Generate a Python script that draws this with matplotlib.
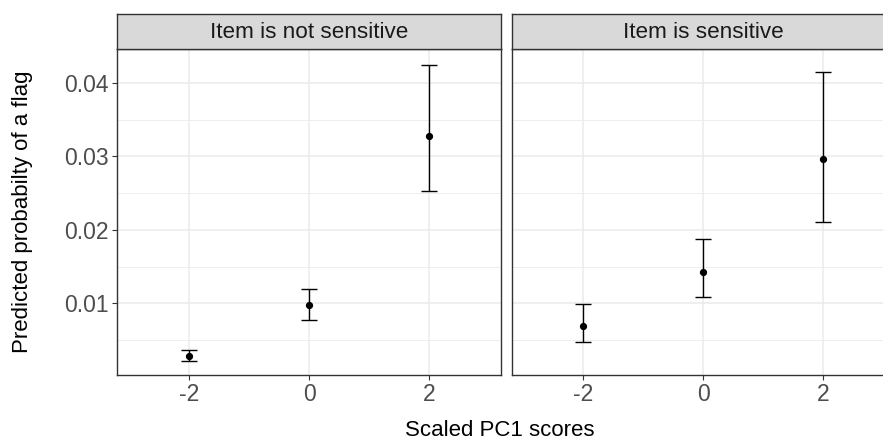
import matplotlib
matplotlib.use("Agg")
import matplotlib.pyplot as plt
from matplotlib.ticker import MultipleLocator
import numpy as np

plt.rcParams['font.family'] = ['Liberation Sans', 'DejaVu Sans']

panels = ["Item is not sensitive", "Item is sensitive"]
x_vals = [-2, 0, 2]
est = {
    "Item is not sensitive": [0.00282, 0.00973, 0.0328],
    "Item is sensitive": [0.00695, 0.0143, 0.0297],
}
lower = {
    "Item is not sensitive": [0.00218, 0.00773, 0.02527],
    "Item is sensitive": [0.00477, 0.0109, 0.0210],
}
upper = {
    "Item is not sensitive": [0.00364, 0.01199, 0.0425],
    "Item is sensitive": [0.00986, 0.01876, 0.04154],
}
y_ticks = [0.01, 0.02, 0.03, 0.04]
y_tick_labels = ["0.01", "0.02", "0.03", "0.04"]
x_ticks = [-2, 0, 2]
x_tick_labels = ["-2", "0", "2"]

W, H = 883, 441
fig = plt.figure(figsize=(W / 100, H / 100), dpi=100)

bottom = 1 - 375 / H
top = 1 - 49 / H
strip_top = 1 - 14 / H
lefts = [117 / W, 511.5 / W]
widths = [(501 - 117) / W, (895 - 511.5) / W]

for i, p in enumerate(panels):
    ax = fig.add_axes([lefts[i], bottom, widths[i], top - bottom])
    ax.set_xlim(-3.2, 3.2)
    ax.set_ylim(0.00023, 0.04463)
    ax.set_facecolor("white")
    ax.yaxis.set_major_locator(MultipleLocator(0.01))
    ax.yaxis.set_minor_locator(MultipleLocator(0.005))
    ax.grid(which="major", color="#EBEBEB", linewidth=1.1)
    ax.grid(which="minor", axis="y", color="#EBEBEB", linewidth=0.6)
    ax.set_axisbelow(True)
    ax.set_xticks(x_ticks)
    ax.set_xticklabels(x_tick_labels)
    ax.set_yticks(y_ticks)
    if i == 0:
        ax.set_yticklabels(y_tick_labels)
    else:
        ax.tick_params(axis="y", which="both", left=False, labelleft=False)
    ax.tick_params(axis="both", which="major", length=3.5, width=0.8,
                   color="#333333", labelcolor="#4D4D4D", labelsize=16.5, pad=2.5)
    ax.tick_params(axis="both", which="minor", length=0)
    for s in ax.spines.values():
        s.set_color("#333333")
        s.set_linewidth(1.0)

    e = np.array(est[p])
    lo = np.array(lower[p])
    hi = np.array(upper[p])
    ax.errorbar(x_vals, e, yerr=[e - lo, hi - e], fmt="o", color="black",
                markersize=4.2, capsize=5.5, elinewidth=1.0, capthick=1.0,
                clip_on=False, zorder=3)

    # strip
    sax = fig.add_axes([lefts[i], top, widths[i], strip_top - top])
    sax.set_facecolor("#D9D9D9")
    sax.set_xticks([])
    sax.set_yticks([])
    for s in sax.spines.values():
        s.set_color("#333333")
        s.set_linewidth(1.0)
    sax.text(0.5, 0.47, p, transform=sax.transAxes, ha="center", va="center",
             fontsize=16.2, color="#1A1A1A")

fig.text(22.5 / W, (bottom + top) / 2, "Predicted probabilty of a flag",
         rotation=90, ha="center", va="center", fontsize=16, color="black")
fig.text(500 / W, 1 - 430 / H, "Scaled PC1 scores",
         ha="center", va="center", fontsize=16, color="black")

fig.savefig("out.png", dpi=100)
